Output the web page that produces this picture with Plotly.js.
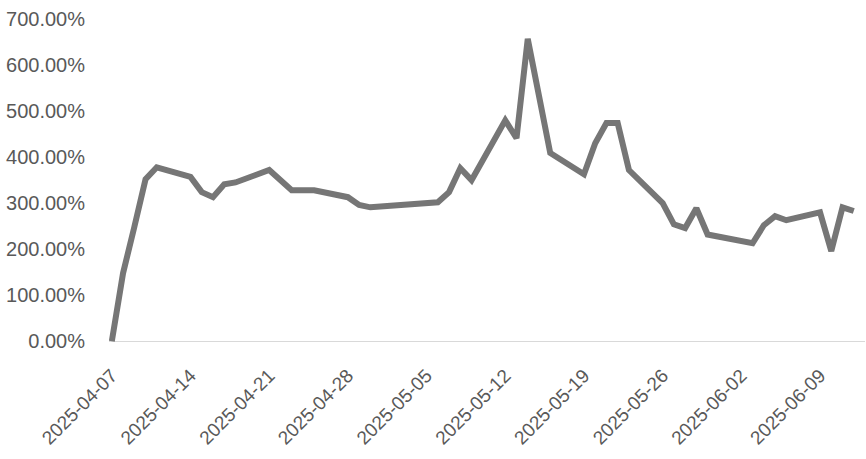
<!DOCTYPE html>
<html>
<head>
<meta charset="utf-8">
<script src="https://cdn.plot.ly/plotly-3.0.1.min.js"></script>
<style>html,body{margin:0;padding:0;background:#fff;}#chart{width:866px;height:459px;}</style>
</head>
<body>
<div id="chart"></div>
<script>
const dates = [
  '2025-04-07','2025-04-08','2025-04-09','2025-04-10','2025-04-11',
  '2025-04-14','2025-04-15','2025-04-16','2025-04-17','2025-04-18',
  '2025-04-21','2025-04-22','2025-04-23','2025-04-24','2025-04-25',
  '2025-04-28','2025-04-29','2025-04-30',
  '2025-05-06','2025-05-07','2025-05-08','2025-05-09',
  '2025-05-12','2025-05-13','2025-05-14','2025-05-15','2025-05-16',
  '2025-05-19','2025-05-20','2025-05-21','2025-05-22','2025-05-23',
  '2025-05-26','2025-05-27','2025-05-28','2025-05-29','2025-05-30',
  '2025-06-03','2025-06-04','2025-06-05','2025-06-06',
  '2025-06-09','2025-06-10','2025-06-11','2025-06-12'
];
const values = [
  0, 148, 248, 352, 378,
  357, 324, 313, 341, 345,
  372, 350, 328, 328, 328,
  313, 296, 291,
  302, 324, 376, 350,
  480, 441, 657, 533, 409,
  363, 430, 474, 474, 372,
  300, 254, 246, 289, 232,
  213, 252, 272, 263,
  280, 196, 291, 283
];
const xTicks = ['2025-04-07','2025-04-14','2025-04-21','2025-04-28','2025-05-05',
  '2025-05-12','2025-05-19','2025-05-26','2025-06-02','2025-06-09'];
const yTicks = [0, 100, 200, 300, 400, 500, 600, 700];

const yfont = {family: 'Liberation Sans, Arial, sans-serif', size: 20, color: '#595959'};
const xfont = {family: 'Liberation Sans, Arial, sans-serif', size: 19, color: '#595959'};

Plotly.newPlot('chart', [{
  x: dates, y: values, type: 'scatter', mode: 'lines',
  line: {color: '#767676', width: 6, shape: 'linear'},
  hoverinfo: 'skip'
}], {
  width: 866, height: 459,
  margin: {l: 109, r: 1, t: 19, b: 114},
  paper_bgcolor: '#ffffff', plot_bgcolor: '#ffffff',
  showlegend: false,
  font: yfont,
  xaxis: {
    type: 'date', range: ['2025-04-06 18:00', '2025-06-13'],
    tickmode: 'array', tickvals: xTicks, ticktext: xTicks,
    tickangle: -45, showgrid: false, zeroline: false, showline: false,
    ticks: 'outside', ticklen: 11, tickcolor: 'rgba(0,0,0,0)',
    tickfont: xfont, fixedrange: true
  },
  yaxis: {
    range: [-8, 700], tickmode: 'array', tickvals: yTicks,
    ticktext: yTicks.map(v => v.toFixed(2) + '%'),
    showgrid: false, zeroline: true, zerolinecolor: '#d9d9d9', zerolinewidth: 1.5,
    showline: false, ticks: 'outside', ticklen: 19, tickcolor: 'rgba(0,0,0,0)',
    tickfont: yfont, fixedrange: true
  }
}, {staticPlot: true});
</script>
</body>
</html>
